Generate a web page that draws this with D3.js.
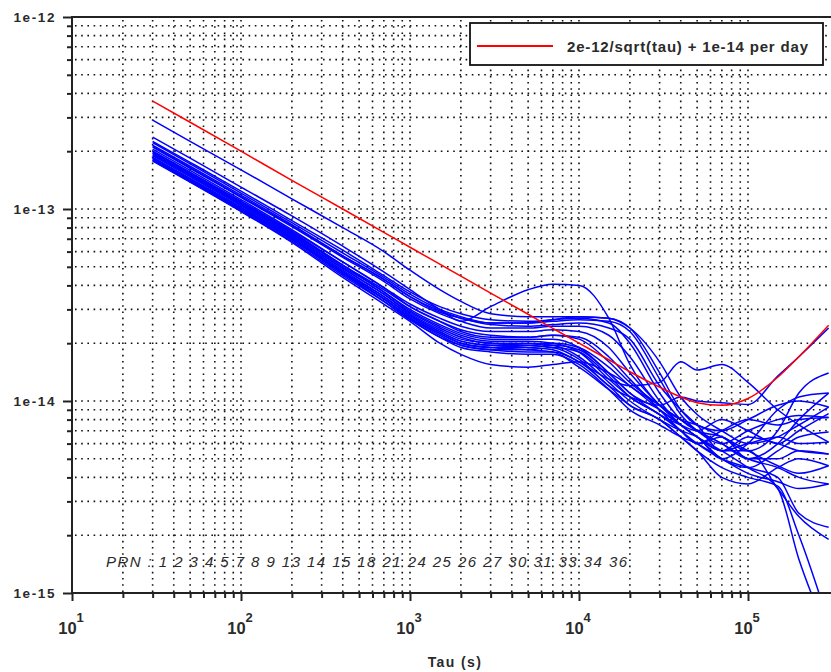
<!DOCTYPE html>
<html>
<head>
<meta charset="utf-8">
<script src="https://cdn.jsdelivr.net/npm/d3@7"></script>
<style>
  body { margin: 0; background: #fff; }
  text { font-family: "Liberation Sans", Arial, sans-serif; fill: #2a2a2a; }
</style>
</head>
<body>
<svg id="chart" width="831" height="672"></svg>
<script>
// averaging times (s)
const tau = [30, 50, 100, 200, 400, 700, 1000, 1500, 2000, 3000, 5000, 7000, 10000,
  15000, 20000, 30000, 40000, 50000, 70000, 100000, 150000, 200000, 300000]

// deviations, in units of 1e-15
const unit = 1e-15
const limitCurve = [365, 283, 200, 141, 100, 75.6, 63.2, 51.6, 44.7, 36.5, 28.3, 23.9, 20.0,
  16.4, 14.2, 11.8, 10.5, 9.8, 9.5, 10.3, 13.3, 17.0, 24.8]

const prnSeries = [
  [290, 225, 160, 113, 80, 60, 48, 38, 33, 28.5, 27.5, 27.5, 27.5, 27, 24, 16, 10.5, 8.5, 7, 6, 6.5, 7.5, 9.3],
  [237, 184, 130, 92, 64, 47, 38, 30, 26, 31, 38, 40.5, 40, 27, 15.5, 9.5, 8, 7, 6, 5, 6, 8, 11],
  [225, 175, 124, 87, 61, 45, 37, 31, 28.5, 26.5, 26, 26.5, 27, 25.5, 20, 11, 8, 7, 6.5, 5.5, 4.6, 4.2, 4.6],
  [222, 172, 121, 85, 59, 44, 36, 30, 27.5, 25.5, 25.5, 26, 26.5, 26, 23, 13, 8.5, 7, 6, 7, 8, 8.4, 8.2],
  [215, 167, 118, 83, 57, 43, 35, 29, 27, 25, 24.5, 25, 25.5, 24, 21, 12, 9, 7.5, 5.5, 6.5, 6, 5.5, 5.3],
  [210, 163, 115, 81, 56, 42, 34, 28.5, 26, 24, 24, 24.5, 24.5, 22, 17, 10, 7.5, 6.5, 5, 4.5, 5.5, 6.5, 6.9],
  [205, 159, 112, 78, 53, 39, 31, 26, 23.5, 22, 21.5, 22, 21, 16, 12.5, 9.5, 8, 7, 6, 5, 4.5, 4, 3.7],
  [200, 155, 109, 76, 51, 37, 30, 25, 22.5, 21, 21, 21, 19, 14, 11, 9, 7.5, 6.5, 5.5, 5.5, 3.5, 2.5, 1.9],
  [198, 153, 108, 75, 50, 37, 29.5, 24.5, 22, 20.5, 20.5, 20, 18, 13, 10.5, 8.5, 7, 6, 5, 4.5, 4, 2.6, 2.2],
  [195, 151, 106, 74, 49, 36, 29, 24, 21.5, 20, 20, 19.5, 17, 12.5, 10, 8, 7, 6.5, 5, 6, 9, 10.5, 11],
  [192, 149, 105, 73, 49, 36, 28.5, 23.5, 21, 20, 19.5, 19, 16.5, 12, 10.5, 9.5, 10.5, 10, 9.8, 9.6, 13.5, 17, 24],
  [190, 147, 104, 72, 48, 35, 28, 23, 20.5, 19.5, 19, 18.5, 16, 13, 12, 12.5, 16, 14.5, 15.5, 12.5, 9, 7.5, 6.1],
  [178, 138, 97, 67, 44, 32, 26, 20, 17.5, 15.5, 15, 15.5, 16, 14, 12, 9, 7.5, 6.5, 5.5, 4.5, 3.5, 1.5, 0.6],
  [186, 144, 102, 71, 47, 34, 27.5, 22.5, 20, 19, 18.5, 18, 15, 11.5, 9.5, 8, 6.5, 5.5, 4.5, 4, 3.6, 2, 0.7],
  [184, 143, 101, 70, 47, 34, 27, 22.5, 20, 19, 19, 19.5, 18.5, 14, 11, 8.5, 7.5, 7, 8, 7, 6, 7, 8.6],
  [182, 141, 100, 70, 46, 34, 27, 22, 19.5, 18.5, 18.5, 19, 18, 13.5, 10.5, 8.5, 7, 6, 7, 8, 7.5, 8, 8.2],
  [180, 140, 99, 69, 46, 33, 26.5, 21.5, 19.5, 18.5, 18, 18, 16, 12, 9.5, 8, 6.5, 5.5, 4, 3.7, 4.5, 5, 4.6],
  [200, 155, 110, 77, 53, 39, 32, 27, 24.5, 23, 23, 23.5, 23, 19, 14, 9.5, 7.5, 6.5, 5.5, 6, 6.5, 6, 6.1],
  [212, 164, 116, 82, 57, 43, 35, 29.5, 27, 25.5, 25.5, 26.5, 27.5, 27, 24, 14, 9, 7.5, 7, 8, 9.5, 10, 9.3],
  [195, 151, 107, 75, 51, 38, 31, 26, 23, 21.5, 21.5, 22, 21.5, 17, 13, 9, 7, 6, 6.5, 5, 5, 5.5, 5.3],
  [185, 144, 102, 71, 47, 35, 28, 23, 20.5, 19.5, 19.5, 20, 19, 15, 12, 9.5, 8, 7.5, 6.5, 5.5, 7, 11, 14],
  [179, 139, 98, 68, 45, 33, 26.5, 21.5, 19, 18, 17.5, 17.5, 15.5, 11.5, 9, 7.5, 6.5, 6, 5, 4.2, 3.8, 3.5, 3.7]
]

const prnNumbers = ['1', '2', '3', '4', '5', '7', '8', '9', '13', '14', '15', '18', '21',
  '24', '25', '26', '27', '30', '31', '33', '34', '36']
const xExponents = ['1', '2', '3', '4', '5']
const yTickLabels = ['1e-15', '1e-14', '1e-13', '1e-12']
const legendLabel = '2e-12/sqrt(tau) + 1e-14 per day'

const svg = d3.select('#chart')
const plotLeft = 72, plotTop = 17, plotBottom = 593, plotRight = 831

const x = d3.scaleLog().domain([10, 1e5]).range([plotLeft, 748])
const y = d3.scaleLog().domain([1e-15, 1e-12]).range([plotBottom, plotTop])

svg.append('defs').append('clipPath').attr('id', 'plot')
  .append('rect').attr('x', plotLeft).attr('y', plotTop)
  .attr('width', plotRight - plotLeft + 10).attr('height', plotBottom - plotTop)

// dotted grid
const grid = svg.append('g').attr('stroke', '#111').attr('stroke-width', 1.6)
  .attr('stroke-dasharray', '1.6,4.6')
grid.selectAll('line.gx').data(x.ticks().filter(d => d > 10))
  .enter().append('line').attr('class', 'gx')
  .attr('x1', d => x(d)).attr('x2', d => x(d)).attr('y1', plotTop + 3).attr('y2', plotBottom)
grid.selectAll('line.gy').data(y.ticks().filter(d => d > 1e-15 * 1.01))
  .enter().append('line').attr('class', 'gy')
  .attr('x1', plotLeft + 3).attr('x2', plotRight + 5).attr('y1', d => y(d)).attr('y2', d => y(d))

// curves
const line = d3.line()
  .x((d, i) => x(tau[i]))
  .y(d => y(d * unit))
  .curve(d3.curveMonotoneX)

const plot = svg.append('g').attr('clip-path', 'url(#plot)')
plot.selectAll('path.prn').data(prnSeries).enter().append('path')
  .attr('class', 'prn')
  .attr('d', line)
  .attr('fill', 'none').attr('stroke', '#0000ff').attr('stroke-width', 1.5)
plot.append('path').datum(limitCurve)
  .attr('d', line)
  .attr('fill', 'none').attr('stroke', '#ff0000').attr('stroke-width', 1.5)

// axes
const isDecade = d => Math.abs(Math.round(Math.log10(d)) - Math.log10(d)) < 1e-9
const majorX = x.ticks().filter(isDecade)
const minorX = x.ticks().filter(d => !isDecade(d))
const majorY = y.ticks().filter(isDecade)
const minorY = y.ticks().filter(d => !isDecade(d))

const axisStyle = g => {
  g.select('.domain').remove()
  g.selectAll('line').attr('stroke', '#222').attr('stroke-width', 2)
  g.selectAll('text').remove()
}
svg.append('g').attr('transform', `translate(0,${plotBottom})`)
  .call(d3.axisBottom(x).tickValues(majorX).tickSize(8)).call(axisStyle)
svg.append('g').attr('transform', `translate(0,${plotBottom})`)
  .call(d3.axisBottom(x).tickValues(minorX).tickSize(5)).call(axisStyle)
svg.append('g').attr('transform', `translate(${plotLeft},0)`)
  .call(d3.axisLeft(y).tickValues(majorY).tickSize(9)).call(axisStyle)
svg.append('g').attr('transform', `translate(${plotLeft},0)`)
  .call(d3.axisLeft(y).tickValues(minorY).tickSize(5)).call(axisStyle)

const frame = svg.append('g').attr('stroke', '#222').attr('stroke-width', 2)
frame.append('line').attr('x1', plotLeft).attr('x2', plotRight).attr('y1', plotBottom).attr('y2', plotBottom)
frame.append('line').attr('x1', plotLeft).attr('x2', plotRight).attr('y1', plotTop).attr('y2', plotTop)
frame.append('line').attr('x1', plotLeft).attr('x2', plotLeft).attr('y1', plotTop - 1).attr('y2', plotBottom + 1)

// tick labels
svg.selectAll('text.ylab').data(majorY).enter().append('text')
  .attr('class', 'ylab')
  .attr('x', 56).attr('y', d => y(d) + 5)
  .attr('text-anchor', 'end').attr('font-size', 13.5).attr('font-weight', 'bold')
  .attr('letter-spacing', 1.6)
  .text((d, i) => yTickLabels[i])

const xl = svg.selectAll('text.xlab').data(majorX).enter().append('text')
  .attr('class', 'xlab')
  .attr('x', d => x(d) - 1).attr('y', 634)
  .attr('text-anchor', 'middle').attr('font-size', 16.5).attr('font-weight', 'bold')
xl.append('tspan').text('10')
xl.append('tspan').attr('dy', -12).attr('font-size', 13).text((d, i) => xExponents[i])

svg.append('text').attr('x', 455).attr('y', 667).attr('text-anchor', 'middle')
  .attr('font-size', 14).attr('font-weight', 'bold').attr('letter-spacing', 1.4)
  .text('Tau  (s)')

// PRN list
svg.append('text').attr('x', 106).attr('y', 567)
  .attr('font-size', 15).attr('font-style', 'italic').attr('fill', '#444')
  .attr('textLength', 521).attr('lengthAdjust', 'spacing')
  .text('PRN :  ' + prnNumbers.join(' '))

// legend
const legend = svg.append('g')
legend.append('rect').attr('x', 470).attr('y', 23).attr('width', 353).attr('height', 42)
  .attr('fill', '#fff').attr('stroke', '#111').attr('stroke-width', 1.8)
legend.append('line').attr('x1', 477).attr('x2', 553).attr('y1', 46).attr('y2', 46)
  .attr('stroke', '#ff0000').attr('stroke-width', 1.8)
legend.append('text').attr('x', 567).attr('y', 51.5).attr('font-size', 15).attr('font-weight', 'bold')
  .attr('textLength', 241).attr('lengthAdjust', 'spacing')
  .text(legendLabel)
</script>
</body>
</html>
